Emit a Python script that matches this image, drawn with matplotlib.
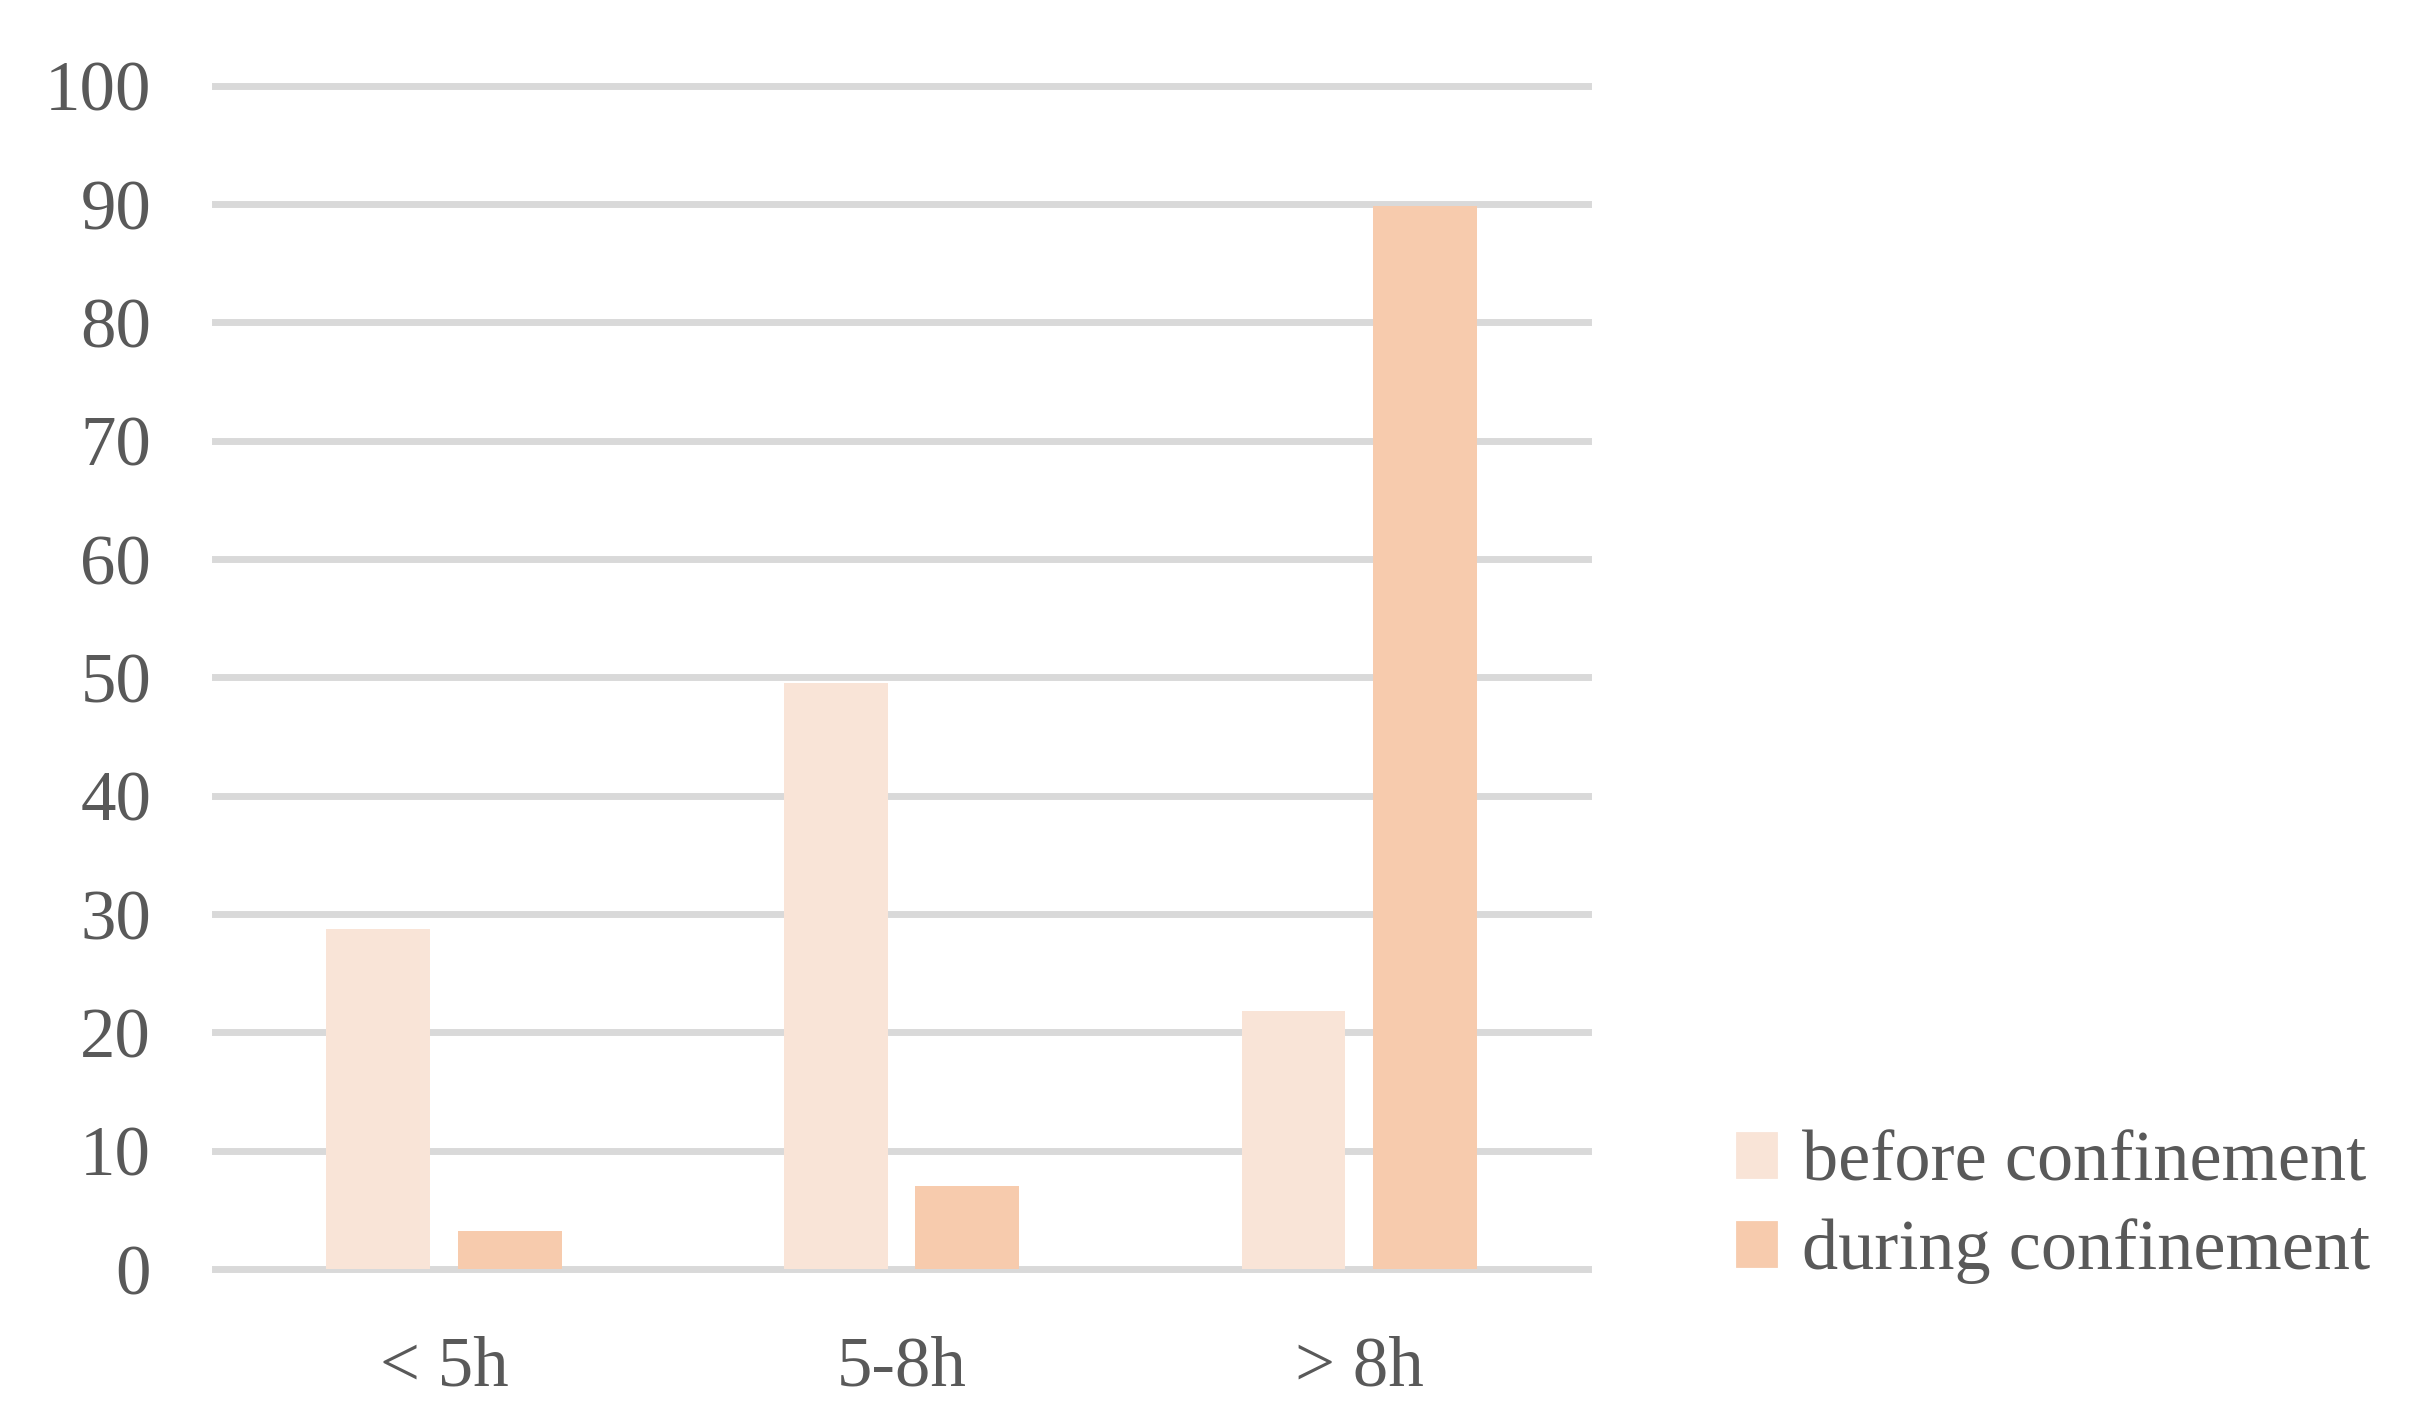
import matplotlib
matplotlib.use("Agg")
import matplotlib.pyplot as plt
import numpy as np
from matplotlib.patches import Patch

# data
categories = ["< 5h", "5-8h", "> 8h"]
before = [28.7, 49.5, 21.8]
during = [3.2, 7.0, 89.8]
series = ["before confinement", "during confinement"]
colors = ["#F9E4D7", "#F7CBAD"]
yticks = [0, 10, 20, 30, 40, 50, 60, 70, 80, 90, 100]

TXT = "#595959"
plt.rcParams["font.family"] = ["Liberation Serif", "DejaVu Serif"]

fig = plt.figure(figsize=(12.085, 7.12), dpi=200)
ax = fig.add_axes([0.089, 0.1088, 0.568, 0.831])

x = np.arange(len(categories))
w = 0.227
off = w / 2 + 0.03
ax.bar(x - off, before, w, color=colors[0], zorder=2)
ax.bar(x + off, during, w, color=colors[1], zorder=2)

ax.set_xlim(-0.5, len(categories) - 0.5)
ax.set_ylim(0, 100)
ax.set_yticks(yticks)
ax.set_xticks(x, categories)
ax.grid(axis="y", color="#D9D9D9", lw=2.5, zorder=1)
for gl in ax.get_ygridlines():
    gl.set_clip_on(False)
ax.set_axisbelow(True)
for s in ax.spines.values():
    s.set_visible(False)
ax.tick_params(axis="both", length=0, labelsize=25.5, colors=TXT)
ax.tick_params(axis="y", pad=23)
ax.tick_params(axis="x", pad=24)

# legend sits bottom right, outside the plot
handles = [Patch(color=c, label=l) for c, l in zip(colors, series)]
fig.legend(handles=handles, loc="center left", bbox_to_anchor=(0.7185, 0.152),
           frameon=False, fontsize=26, labelcolor=TXT,
           handlelength=0.55, handleheight=0.55, handletextpad=0.36,
           labelspacing=0.32, borderpad=0, borderaxespad=0)

fig.savefig("out.png", dpi=200)
